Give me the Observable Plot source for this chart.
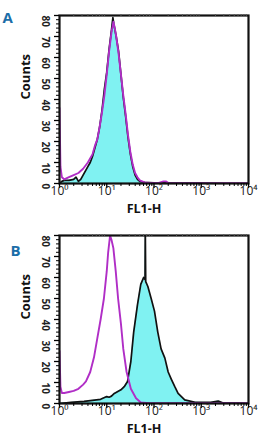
<!DOCTYPE html>
<html><head><meta charset="utf-8">
<script src="https://cdn.jsdelivr.net/npm/d3@7"></script>
<script src="https://cdn.jsdelivr.net/npm/@observablehq/plot@0.6"></script>
<style>body{margin:0;background:#fff;font-family:"Open Sans",sans-serif}#c div{line-height:0}</style>
</head><body><div id="c"></div>
<script>
// log10(FL1-H) positions and counts
const aFillX = [0,0.05,0.1,0.2,0.3,0.35,0.4,0.45,0.5,0.55,0.6,0.65,0.7,0.75,0.8,0.85,0.9,0.95,1.0,1.05,1.1,1.13,1.15,1.2,1.25,1.3,1.35,1.4,1.45,1.5,1.55,1.6,1.65,1.7,1.8,2.0,2.2,2.5,3.0,3.5,4.0];
const aFillY = [0,1,1.5,1.5,2,3,1,2,4,6,8,10,13,17,21,27,35,45,53,64,73,79,76,70,63,52,41,32,22,14,8,4,2,1,0.5,0.3,0.3,0.2,0.2,0,0];
const aMagX = [0,0.02,0.05,0.1,0.2,0.3,0.4,0.5,0.6,0.7,0.75,0.8,0.85,0.9,0.95,1.0,1.05,1.1,1.14,1.17,1.2,1.25,1.3,1.35,1.4,1.45,1.5,1.55,1.6,1.65,1.7,1.8,1.9,2.1,2.2,2.25,2.3,2.5,3.0,4.0];
const aMagY = [36,8,3,2,3,4,5,7,10,14,18,21,27,34,42,52,63,72,77,74,70,62,52,42,33,23,15,9,5,3,1.5,0.5,0.3,0.3,1,1,0.3,0.2,0.2,0.2];
const bMagX = [0,0.02,0.05,0.1,0.2,0.3,0.4,0.5,0.56,0.65,0.73,0.8,0.87,0.94,1.0,1.03,1.07,1.1,1.14,1.19,1.24,1.3,1.35,1.42,1.51,1.62,1.72,1.9,4.0];
const bMagY = [25,8,5,5,5.5,6,7,9,10.5,15,22,31,40,50,63,72,80,78,74,63,50,38,26,15,7,2.5,0.5,0.2,0.2];
const bFillX = [0,0.24,0.52,0.87,1.0,1.05,1.1,1.16,1.3,1.37,1.44,1.51,1.57,1.65,1.72,1.78,1.81,1.815,1.825,1.87,1.94,2.01,2.08,2.15,2.23,2.3,2.37,2.44,2.51,2.65,2.87,3.2,3.36,3.45,3.8,4.0];
const bFillY = [0,0.5,1,2,3.3,3,3.5,4.8,6.5,8,10.5,20,34,47,56.7,60,59,85,58,55.7,50,44,34,26,21.6,15,11.4,8,4.8,1.7,0.6,0.5,1.2,0.3,0.2,0];
const yTicks = [0,10,20,30,40,50,60,70,80];
const xTicks = [0,1,2,3,4];
const xTickLabels = ["10⁰","10¹","10²","10³","10⁴"];
const panels = [
  {letter:"A", fx:aFillX, fy:aFillY, mx:aMagX, my:aMagY, ldx:-57, ldy:-3, mt:15, mb:38},
  {letter:"B", fx:bFillX, fy:bFillY, mx:bMagX, my:bMagY, ldx:-49, ldy:10, mt:14, mb:39}
];
const CYAN = "#80f2f2", MAG = "#b02ec6", BLUE = "#1b6ea8";
const minorY = d3.range(0, 81, 2);
const minorX = [];
for (let e = 0; e < 4; e++) for (let k = 2; k <= 9; k++) minorX.push(e + Math.log10(k));
for (const p of panels) {
  const fill = p.fx.map((x, i) => ({x, y: p.fy[i]}));
  const mag = p.mx.map((x, i) => ({x, y: p.my[i]}));
  const chart = Plot.plot({
    width: 265, height: 221,
    marginLeft: 59, marginRight: 17, marginTop: p.mt, marginBottom: p.mb,
    style: {fontFamily: "Open Sans, sans-serif", background: "white", overflow: "visible"},
    x: {domain: [0, 4], axis: null},
    y: {domain: [0, 80], axis: null},
    marks: [
      Plot.areaY(fill, {x: "x", y: "y", fill: CYAN, clip: true}),
      Plot.lineY(fill, {x: "x", y: "y", stroke: "#111", strokeWidth: 1.7, clip: true}),
      Plot.lineY(mag, {x: "x", y: "y", stroke: MAG, strokeWidth: 1.9, clip: true}),
      Plot.frame({stroke: "#111", strokeWidth: 2.2}),
      Plot.axisY(yTicks, {tickSize: 5, tickFormat: () => "", label: null, strokeWidth: 1.3}),
      Plot.axisY(minorY, {tickSize: 3, tickFormat: () => "", label: null}),
      Plot.axisX(xTicks, {tickSize: 5, tickFormat: () => "", label: null, strokeWidth: 1.3}),
      Plot.axisX(minorX, {tickSize: 3, tickFormat: () => "", label: null}),
      Plot.axisX(minorX, {anchor: "top", tickSize: 2, tickFormat: () => "", label: null, stroke: "#555"}),
      Plot.text(yTicks, {y: d => d, text: d => String(d), frameAnchor: "left", dx: -14, rotate: 90, fontSize: 10, fontWeight: "bold", fill: "#222"}),
      Plot.text(xTicks, {x: d => d, text: (d, i) => xTickLabels[i], frameAnchor: "bottom", dy: 11, fontSize: 12, fill: "#222"}),
      Plot.text(["Counts"], {frameAnchor: "left", dx: -34, rotate: -90, fontSize: 13, fontWeight: "bold", fill: "#111"}),
      Plot.text(["FL1-H"], {frameAnchor: "bottom", dx: -10, dy: 29, fontSize: 12.5, fontWeight: "bold", fill: "#111"}),
      Plot.text([p.letter], {frameAnchor: "top-left", textAnchor: "start", dx: p.ldx, dy: p.ldy, fontSize: 15, fontWeight: "bold", fill: BLUE})
    ]
  });
  const wrap = document.createElement("div");
  wrap.appendChild(chart);
  document.getElementById("c").appendChild(wrap);
}
</script>
</body></html>
